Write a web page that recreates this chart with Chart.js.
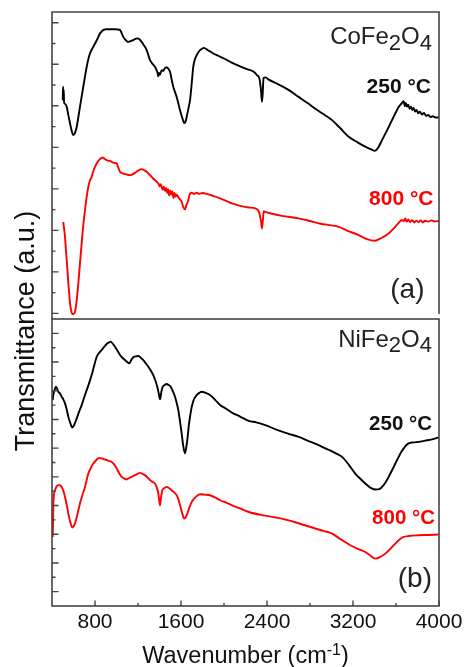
<!DOCTYPE html>
<html>
<head>
<meta charset="utf-8">
<script src="https://cdn.jsdelivr.net/npm/chart.js@4/dist/chart.umd.min.js"></script>
<style>
  html, body { margin: 0; padding: 0; background: #fff; }
  canvas { display: block; }
</style>
</head>
<body>
<canvas id="ftir" width="465" height="667"></canvas>
<script>
// FTIR spectra, wavenumber in cm-1, transmittance in arbitrary units (offset per sample)

// (a) CoFe2O4 calcined at 250 °C
const coWn250 = [500,503,506,509,512,520,537,552,567,583,598,614,630,645,660,676,691,707,723,738,753,769,784,800,816,831,846,862,877,893,909,930,950,967,990,1010,1033,1048,1063,1079,1095,1110,1125,1140,1156,1175,1193,1210,1234,1257,1281,1296,1312,1335,1358,1370,1380,1389,1395,1405,1420,1435,1450,1467,1480,1490,1498,1510,1520,1528,1545,1560,1575,1591,1610,1625,1633,1643,1653,1668,1684,1700,1714,1730,1746,1762,1777,1795,1814,1830,1850,1870,1900,1950,2000,2072,2150,2220,2276,2307,2330,2345,2353,2360,2368,2384,2420,2480,2538,2600,2694,2780,2860,2940,3005,3080,3160,3240,3314,3370,3402,3430,3470,3520,3563,3600,3625,3650,3672,3682,3692,3702,3714,3726,3740,3752,3764,3778,3792,3806,3822,3842,3860,3880,3900,3920,3940,3965,3997];
const coT250 = [10.27,10.92,10.30,10.78,10.18,10.10,9.95,9.55,9.17,8.80,8.59,8.70,8.99,9.45,9.95,10.45,10.92,11.42,11.88,12.25,12.52,12.70,12.84,13.00,13.16,13.32,13.49,13.58,13.65,13.68,13.69,13.69,13.69,13.69,13.69,13.68,13.65,13.50,13.32,13.20,13.12,13.08,13.10,13.14,13.16,13.22,13.25,13.22,13.08,12.90,12.68,12.45,12.20,12.02,11.88,11.75,11.62,11.42,11.58,11.50,11.72,11.68,11.82,11.85,11.80,11.72,11.64,11.35,11.10,10.92,10.65,10.43,10.12,9.79,9.45,9.22,9.17,9.25,9.47,9.85,10.27,11.10,11.88,12.25,12.44,12.58,12.68,12.75,12.79,12.75,12.68,12.62,12.52,12.40,12.28,12.08,11.90,11.76,11.64,11.48,11.30,10.70,10.19,10.60,11.35,11.37,11.25,11.10,10.95,10.77,10.43,10.12,9.82,9.55,9.31,8.93,8.51,8.25,8.03,7.90,7.83,7.95,8.35,8.85,9.31,9.70,9.95,10.10,10.22,9.98,10.14,9.96,10.06,9.86,9.96,9.80,9.90,9.72,9.80,9.64,9.72,9.58,9.66,9.52,9.56,9.46,9.50,9.44,9.44];

// (a) CoFe2O4 calcined at 800 °C
const coWn800 = [505,513,521,529,537,545,552,560,567,578,589,601,614,630,645,660,676,691,707,722,738,753,769,784,800,816,831,850,865,877,890,905,924,940,955,970,985,1002,1015,1033,1055,1079,1100,1126,1150,1172,1200,1234,1255,1281,1300,1327,1350,1374,1390,1400,1410,1420,1430,1440,1452,1462,1472,1480,1490,1500,1510,1520,1530,1540,1550,1560,1575,1590,1606,1620,1637,1650,1668,1684,1700,1720,1746,1770,1800,1839,1900,1963,2020,2074,2150,2230,2291,2326,2345,2353,2362,2370,2384,2450,2540,2694,2800,2900,3000,3067,3150,3253,3330,3402,3460,3532,3580,3625,3655,3672,3686,3700,3715,3730,3750,3770,3790,3811,3830,3850,3870,3900,3930,3960,3997];
const coT800 = [4.41,4.05,3.69,3.10,2.57,2.00,1.45,0.95,0.50,0.15,-0.03,-0.02,0.08,0.65,1.45,2.40,3.37,4.25,4.98,5.60,6.10,6.40,6.58,6.85,7.06,7.22,7.35,7.45,7.50,7.50,7.44,7.40,7.35,7.36,7.30,7.26,7.25,7.22,7.05,6.82,6.75,6.71,6.68,6.66,6.70,6.77,6.88,6.95,6.90,6.82,6.72,6.58,6.45,6.34,6.26,6.12,6.22,6.10,5.96,6.10,5.90,6.04,5.80,5.98,5.68,5.92,5.72,5.88,5.55,5.80,5.62,5.72,5.60,5.50,5.38,5.15,5.01,5.22,5.45,5.78,5.82,5.76,5.81,5.76,5.80,5.76,5.66,5.54,5.42,5.30,5.18,5.10,5.06,4.88,4.40,4.09,4.50,4.92,4.89,4.80,4.70,4.58,4.45,4.32,4.24,4.17,3.98,3.77,3.58,3.50,3.62,3.85,4.10,4.36,4.50,4.45,4.57,4.42,4.53,4.40,4.49,4.38,4.47,4.40,4.48,4.38,4.46,4.42,4.48,4.43,4.46];

// (b) NiFe2O4 calcined at 250 °C
const niWn250 = [407,412,419,428,437,447,459,475,490,505,521,537,552,570,589,608,630,652,676,700,723,746,769,792,816,840,862,885,909,928,946,965,986,1010,1033,1055,1079,1100,1119,1138,1156,1180,1203,1226,1249,1272,1296,1320,1342,1360,1379,1392,1405,1418,1430,1448,1467,1485,1504,1525,1544,1560,1575,1590,1606,1620,1637,1650,1662,1673,1684,1700,1720,1746,1770,1793,1830,1870,1920,1963,2020,2074,2150,2230,2300,2384,2500,2600,2695,2800,2870,2942,3000,3050,3098,3160,3221,3270,3314,3360,3407,3445,3485,3525,3563,3595,3625,3650,3672,3695,3718,3760,3811,3870,3935,3997];
const niT250 = [13.35,13.70,13.93,14.15,14.28,14.15,13.93,13.80,13.58,13.40,13.12,12.70,12.18,11.75,11.44,11.65,12.07,12.55,13.00,13.55,14.05,14.55,15.09,15.75,16.37,16.65,16.84,17.05,17.26,17.35,17.42,17.28,17.07,16.78,16.49,16.30,16.14,16.00,15.91,16.15,16.33,16.40,16.42,16.30,16.14,15.92,15.67,15.40,15.09,14.75,14.28,13.85,13.40,13.95,14.28,14.40,14.47,14.40,14.28,13.95,13.58,13.15,12.65,11.90,11.03,10.20,9.63,10.10,10.79,11.60,12.18,12.88,13.40,13.70,13.85,13.93,13.85,13.70,13.35,13.00,12.75,12.48,12.20,11.90,11.80,11.61,11.25,11.00,10.79,10.45,10.25,9.98,9.80,9.60,9.39,8.85,8.23,7.85,7.54,7.25,7.12,7.15,7.42,7.90,8.46,8.95,9.39,9.75,9.98,10.20,10.33,10.40,10.44,10.52,10.61,10.75];

// (b) NiFe2O4 calcined at 800 °C
const niWn800 = [407,410,412,416,421,428,440,459,475,490,505,521,537,552,570,589,605,623,640,660,684,707,723,738,760,784,810,826,840,865,893,925,955,980,1002,1025,1048,1070,1095,1118,1141,1160,1172,1195,1219,1240,1265,1290,1312,1335,1358,1375,1389,1398,1405,1414,1426,1445,1467,1490,1513,1537,1560,1575,1591,1610,1631,1645,1659,1680,1700,1740,1777,1820,1870,1920,1963,2020,2074,2150,2230,2380,2539,2700,2849,2930,3005,3080,3160,3240,3314,3360,3407,3450,3500,3550,3593,3630,3672,3720,3811,3900,3997];
const niT800 = [3.81,4.90,5.90,6.55,6.90,7.07,7.30,7.42,7.40,7.30,7.05,6.60,6.05,5.44,4.85,4.47,4.60,4.98,5.50,6.14,6.75,7.30,7.80,8.23,8.60,8.93,9.15,9.28,9.32,9.28,9.21,9.12,9.04,8.85,8.58,8.25,8.00,7.90,7.82,7.92,8.00,8.08,8.12,8.20,8.28,8.22,8.12,7.95,7.77,7.65,7.54,7.25,6.84,6.30,6.02,6.55,7.07,7.22,7.30,7.20,7.07,6.92,6.72,6.45,6.02,5.50,5.09,5.20,5.44,5.90,6.25,6.62,6.79,6.76,6.72,6.55,6.37,6.20,6.02,5.80,5.55,5.30,5.09,4.75,4.40,4.22,4.05,3.68,3.30,3.00,2.76,2.52,2.30,2.40,2.65,3.00,3.35,3.62,3.81,3.88,3.93,3.95,3.98];

// Axis ticks
const xTickLabels = [800, 1600, 2400, 3200, 4000];
const xMinorTicks = [1200, 2000, 2800, 3600];
const coYTicks = [0,1,2,3,4,5,6,7,8,9,10,11,12,13,14];
const niYTicks = [0,1,2,3,4,5,6,7,8,9,10,11,12,13,14,15,16,17,18];

const FONT = '"Liberation Sans", Arial, sans-serif';
const FRAME = '#444';
const RED = '#ff0000';

const toPoints = (xs, ys) => xs.map((x, i) => ({ x, y: ys[i] }));

function drawFormula(ctx, parts, rightX, baseline, size, subSize, subDrop) {
  // parts: [[text, isSubscript], ...], right aligned at rightX
  let total = 0;
  parts.forEach(([t, sub]) => {
    ctx.font = `${sub ? subSize : size}px ${FONT}`;
    total += ctx.measureText(t).width;
  });
  let x = rightX - total;
  ctx.textAlign = 'left';
  parts.forEach(([t, sub]) => {
    ctx.font = `${sub ? subSize : size}px ${FONT}`;
    ctx.fillText(t, x, baseline + (sub ? subDrop : 0));
    x += ctx.measureText(t).width;
  });
}

const panelPlugin = {
  id: 'panelFrames',
  afterDatasetsDraw(chart) {
    const { ctx, chartArea } = chart;
    const { left, right } = chartArea;
    const { x, yCo, yNi } = chart.scales;
    ctx.save();
    ctx.strokeStyle = FRAME;
    ctx.lineWidth = 1.6;
    ctx.lineCap = 'butt';
    // upper panel frame
    ctx.beginPath();
    ctx.moveTo(left, yCo.bottom);
    ctx.lineTo(left, yCo.top);
    ctx.lineTo(right, yCo.top);
    ctx.lineTo(right, yCo.bottom - 5);
    ctx.stroke();
    // lower panel frame
    ctx.strokeRect(left, yNi.top, right - left, yNi.bottom - yNi.top);

    // inward ticks on the left axes
    ctx.lineWidth = 1.4;
    ctx.beginPath();
    coYTicks.forEach(v => {
      const py = yCo.getPixelForValue(v);
      ctx.moveTo(left, py);
      ctx.lineTo(left + (v % 2 === 0 ? 6.5 : 3.5), py);
    });
    niYTicks.forEach(v => {
      const py = yNi.getPixelForValue(v);
      ctx.moveTo(left, py);
      ctx.lineTo(left + (v % 2 === 0 ? 6.5 : 3.5), py);
    });
    // inward ticks on the wavenumber axis
    xTickLabels.forEach(v => {
      const px = x.getPixelForValue(v);
      ctx.moveTo(px, yNi.bottom);
      ctx.lineTo(px, yNi.bottom - 5.5);
    });
    xMinorTicks.forEach(v => {
      const px = x.getPixelForValue(v);
      ctx.moveTo(px, yNi.bottom);
      ctx.lineTo(px, yNi.bottom - 3);
    });
    ctx.stroke();
    ctx.restore();
  },
  afterDraw(chart) {
    const { ctx, chartArea } = chart;
    const { left, right } = chartArea;
    const { x, yCo, yNi } = chart.scales;
    ctx.save();
    ctx.fillStyle = '#111';
    ctx.textBaseline = 'alphabetic';

    // tick labels
    ctx.font = `21px ${FONT}`;
    ctx.textAlign = 'center';
    xTickLabels.forEach(v => ctx.fillText(String(v), x.getPixelForValue(v), yNi.bottom + 22));

    // x title with superscript
    const main = 'Wavenumber (cm';
    const sup = '-1';
    const close = ')';
    ctx.font = `23.5px ${FONT}`;
    const wMain = ctx.measureText(main).width;
    const wClose = ctx.measureText(close).width;
    ctx.font = `16px ${FONT}`;
    const wSup = ctx.measureText(sup).width;
    let tx = (left + right) / 2 - (wMain + wSup + wClose) / 2;
    const tb = yNi.bottom + 57;
    ctx.textAlign = 'left';
    ctx.font = `23.5px ${FONT}`;
    ctx.fillText(main, tx, tb);
    tx += wMain;
    ctx.font = `16px ${FONT}`;
    ctx.fillText(sup, tx, tb - 8.5);
    tx += wSup;
    ctx.font = `23.5px ${FONT}`;
    ctx.fillText(close, tx, tb);

    // y title
    ctx.save();
    ctx.translate(left - 18.5, yCo.top + 319);
    ctx.rotate(-Math.PI / 2);
    ctx.textAlign = 'center';
    ctx.font = `27px ${FONT}`;
    ctx.fillText('Transmittance (a.u.)', 0, 0);
    ctx.restore();

    // panel annotations
    ctx.fillStyle = '#222';
    drawFormula(ctx, [['CoFe', false], ['2', true], ['O', false], ['4', true]], right - 7, yCo.top + 31.5, 24, 22, 6.5);
    drawFormula(ctx, [['NiFe', false], ['2', true], ['O', false], ['4', true]], right - 7, yNi.top + 27.5, 24, 22, 5.5);

    ctx.textAlign = 'right';
    ctx.font = `bold 21px ${FONT}`;
    ctx.fillStyle = '#111';
    ctx.fillText('250 °C', right - 8, yCo.top + 81);
    ctx.fillStyle = RED;
    ctx.fillText('800 °C', right - 5.5, yCo.top + 193);
    ctx.font = `bold 20.5px ${FONT}`;
    ctx.fillStyle = '#111';
    ctx.fillText('250 °C', right - 7, yNi.top + 111);
    ctx.fillStyle = RED;
    ctx.fillText('800 °C', right - 4, yNi.top + 205);

    ctx.fillStyle = '#222';
    ctx.font = `28px ${FONT}`;
    ctx.fillText('(a)', right - 14.5, yCo.top + 286);
    ctx.fillText('(b)', right - 7, yNi.top + 268);
    ctx.restore();
  }
};

const lineStyle = (color) => ({
  borderColor: color,
  backgroundColor: color,
  borderWidth: 1.9,
  pointRadius: 0,
  fill: false,
  cubicInterpolationMode: 'monotone'
});

new Chart(document.getElementById('ftir'), {
  type: 'line',
  data: {
    datasets: [
      { label: 'CoFe2O4 250 °C', data: toPoints(coWn250, coT250), yAxisID: 'yCo', ...lineStyle('#000') },
      { label: 'CoFe2O4 800 °C', data: toPoints(coWn800, coT800), yAxisID: 'yCo', ...lineStyle(RED) },
      { label: 'NiFe2O4 250 °C', data: toPoints(niWn250, niT250), yAxisID: 'yNi', ...lineStyle('#000') },
      { label: 'NiFe2O4 800 °C', data: toPoints(niWn800, niT800), yAxisID: 'yNi', ...lineStyle(RED) }
    ]
  },
  options: {
    responsive: false,
    devicePixelRatio: 1,
    animation: false,
    parsing: true,
    layout: { padding: { left: 52, right: 26, top: 12, bottom: 61 } },
    plugins: { legend: { display: false }, tooltip: { enabled: false } },
    scales: {
      x: { type: 'linear', min: 400, max: 4000, display: false },
      yCo: { type: 'linear', position: 'right', stack: 'panels', stackWeight: 307, min: -0.27, max: 14.52, display: false },
      yNi: { type: 'linear', position: 'right', stack: 'panels', stackWeight: 287, min: -1, max: 19, display: false }
    }
  },
  plugins: [panelPlugin]
});
</script>
</body>
</html>
